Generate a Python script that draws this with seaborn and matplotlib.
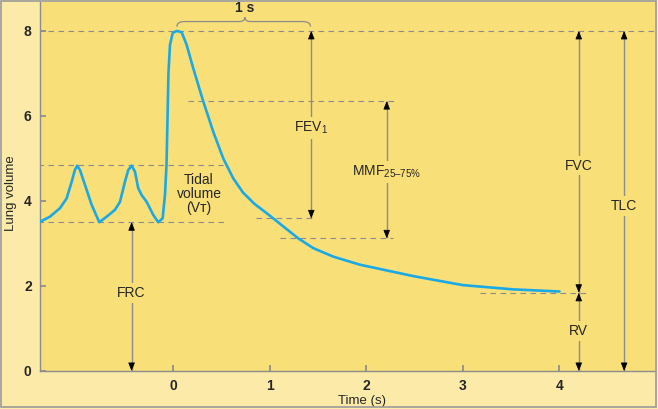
import numpy as np
import pandas as pd
import seaborn as sns
import matplotlib.pyplot as plt
from matplotlib.path import Path
from matplotlib.patches import PathPatch, Rectangle

# spirogram trace (time in s, volume in L)
time_s = [-1.383, -1.280, -1.176, -1.107, -1.055, -1.021, -0.997, -0.969,
          -0.917, -0.848, -0.769, -0.692, -0.606, -0.554, -0.503, -0.468,
          -0.433, -0.399, -0.365, -0.330, -0.278, -0.209, -0.158, -0.112,
          -0.088, -0.072, -0.062, -0.052, -0.036, -0.008, 0.033, 0.085,
          0.137, 0.205, 0.309, 0.412, 0.516, 0.620, 0.720, 0.840, 0.950,
          1.034, 1.293, 1.449, 1.656, 1.933, 2.49, 3.00, 3.52, 4.00]
volume_l = [3.51, 3.63, 3.83, 4.06, 4.45, 4.73, 4.83, 4.73,
            4.38, 3.91, 3.50, 3.63, 3.79, 3.98, 4.45, 4.73,
            4.83, 4.69, 4.30, 4.14, 3.98, 3.67, 3.50, 3.59,
            4.14, 4.85, 5.90, 7.00, 7.67, 7.95, 8.00, 7.97,
            7.67, 7.12, 6.34, 5.63, 5.00, 4.53, 4.20, 3.93, 3.74,
            3.59, 3.12, 2.89, 2.69, 2.50, 2.23, 2.02, 1.92, 1.87]

# reference levels (L)
tlc = 8.0
tidal_top = 4.85
frc = 3.5
fev1_low = 3.59
mmf_top = 6.35
mmf_low = 3.12
rv = 1.84

xticks = [0, 1, 2, 3, 4]
yticks = [0, 2, 4, 6, 8]

bg = '#F9DF78'
outer = '#FCEBA8'
grey = '#8c8c8c'
blue = '#19A9E6'

sns.set_theme(style='ticks')
plt.rcParams['font.family'] = ['Liberation Sans', 'DejaVu Sans']
plt.rcParams['mathtext.fontset'] = 'custom'
plt.rcParams['mathtext.rm'] = 'Liberation Sans'

fig = plt.figure(figsize=(6.58, 4.09), dpi=100, facecolor=outer)
ax = fig.add_axes([40/658, 38/409, 615/658, 369/409])
ax.set_facecolor(bg)
fig.patches.append(Rectangle((0.5/658, 2/409), 655.5/658, 406.5/409, transform=fig.transFigure,
                             fill=False, ec='#9a9a9a', lw=1.2))

df = pd.DataFrame({'t': time_s, 'v': volume_l})
sns.lineplot(data=df, x='t', y='v', ax=ax, color=blue, lw=1.9, sort=False, zorder=5)
ax.lines[-1].set_solid_joinstyle('round')

dash = (0, (5, 4))
def hdash(y, x0, x1):
    ax.hlines(y, x0, x1, colors=grey, linestyles=dash, lw=0.8, zorder=2)

hdash(tlc, -1.4, 5.0)
hdash(tidal_top, -1.4, 0.51)
hdash(frc, -1.4, 0.52)
hdash(mmf_top, 0.15, 2.30)
hdash(fev1_low, 0.86, 1.47)
hdash(mmf_low, 1.10, 2.28)
hdash(rv, 3.18, 4.30)

def head(x, y, up):
    ax.annotate('', xy=(x, y), xytext=(0, -5 if up else 5), textcoords='offset points',
                arrowprops=dict(arrowstyle='-|>,head_length=0.5,head_width=0.2',
                                color='black', lw=0.6, shrinkA=0, shrinkB=0,
                                mutation_scale=10), zorder=4)

def varrow(x, y0, y1, label=None, ly=None):
    ax.vlines(x, y0, y1, colors=grey, lw=1.0, zorder=3)
    head(x, y1, True)
    head(x, y0, False)
    if label:
        ax.text(x, ly, label, ha='center', va='center', fontsize=10, zorder=6,
                bbox=dict(boxstyle='square,pad=0.2', fc=bg, ec='none'))

varrow(-0.434, 0, frc, 'FRC', 1.84)
varrow(1.428, fev1_low, tlc, 'FEV$_\\mathregular{1}$', 5.72)
varrow(2.21, mmf_low, mmf_top, 'MMF$_\\mathregular{25\u201375\\%}$', 4.69)
varrow(4.20, rv, tlc, 'FVC', 4.83)
varrow(4.20, 0, rv, 'RV', 0.94)
varrow(4.67, 0, tlc, 'TLC', 3.88)

ax.text(0.265, 4.16, 'Tidal\nvolume\n(V\u1d1b)', ha='center', va='center',
        fontsize=10, linespacing=1.0, zorder=6)

# 1 s brace
x0, x1, xm = 0.035, 1.42, 0.74
ye, yb, yt = 8.10, 8.22, 8.32
verts = [(x0, ye), (x0, yb), (x0 + 0.08, yb), (xm - 0.06, yb), (xm, yb), (xm, yt),
         (xm, yb), (xm + 0.06, yb), (x1 - 0.08, yb), (x1, yb), (x1, ye)]
codes = [Path.MOVETO, Path.CURVE3, Path.CURVE3, Path.LINETO, Path.CURVE3, Path.CURVE3,
         Path.CURVE3, Path.CURVE3, Path.LINETO, Path.CURVE3, Path.CURVE3]
ax.add_patch(PathPatch(Path(verts, codes), fill=False, ec=grey, lw=0.9))
ax.text(xm, 8.54, '1 s', ha='center', va='center', fontsize=10, fontweight='bold')

ax.set_xlim(-1.383, 4.99)
ax.set_ylim(0, 8.68)
ax.set_xticks(xticks)
ax.set_yticks(yticks)
ax.tick_params(direction='in', length=4, color=grey, labelsize=10, pad=6)
for lab in ax.get_xticklabels() + ax.get_yticklabels():
    lab.set_fontweight('bold')
for s in ['top', 'right']:
    ax.spines[s].set_visible(False)
for s in ['left', 'bottom']:
    ax.spines[s].set_color(grey)
    ax.spines[s].set_linewidth(1.0)

ax.set_xlabel('Time (s)', fontsize=9.5)
ax.set_ylabel('Lung volume', fontsize=9.5)
ax.xaxis.set_label_coords(0.524, -0.066)
ax.yaxis.set_label_coords(-0.038, 0.482)

fig.savefig('out.png', dpi=100, facecolor=outer)
